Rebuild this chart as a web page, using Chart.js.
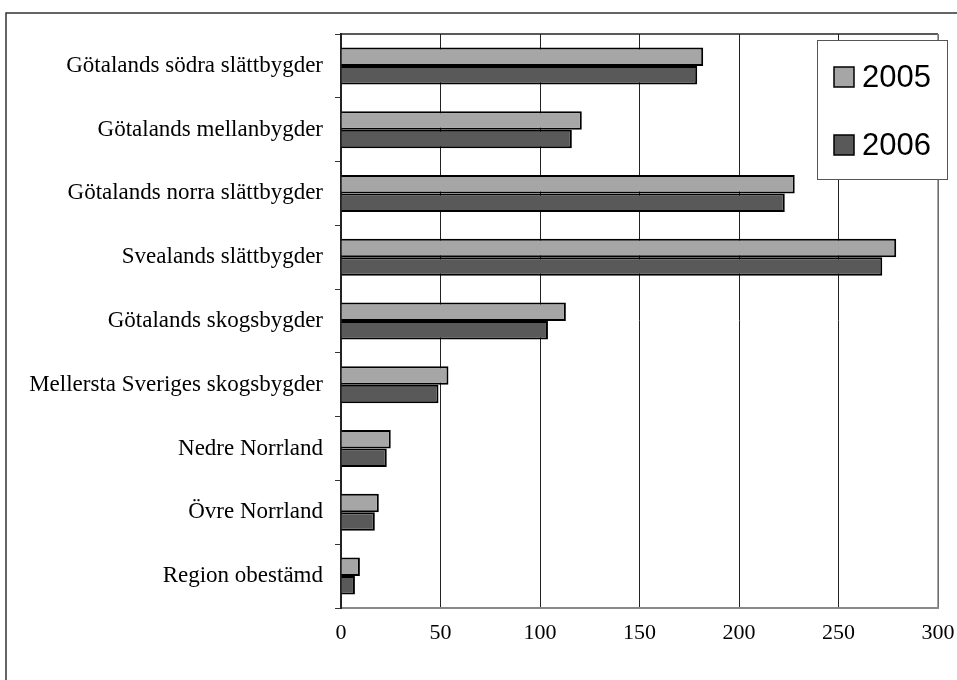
<!DOCTYPE html>
<html>
<head>
<meta charset="utf-8">
<script src="https://cdn.jsdelivr.net/npm/chart.js@4"></script>
<style>
  html, body { margin: 0; padding: 0; background: #fff; }
  #wrap { width: 957px; height: 680px; }
</style>
</head>
<body>
<div id="wrap"><canvas id="chart" width="957" height="680"></canvas></div>
<script>
// data
const regions = ['Götalands södra slättbygder', 'Götalands mellanbygder', 'Götalands norra slättbygder',
  'Svealands slättbygder', 'Götalands skogsbygder', 'Mellersta Sveriges skogsbygder',
  'Nedre Norrland', 'Övre Norrland', 'Region obestämd'];
const years = ['2005', '2006'];
const values2005 = [182, 121, 228, 279, 113, 54, 25, 19, 9.5];
const values2006 = [179, 116, 223, 272, 104, 49, 23, 17, 7];
const xTicks = [0, 50, 100, 150, 200, 250, 300];

const colors = ['#a6a6a6', '#595959'];

// outer frame + plot frame top/right + the legend box
const framePlugin = {
  id: 'frame',
  beforeDraw(chart) {
    const c = chart.ctx;
    c.save();
    c.strokeStyle = '#333';
    c.lineWidth = 1.5;
    c.beginPath();
    c.moveTo(6, 700);
    c.lineTo(6, 13);
    c.lineTo(960, 13);
    c.stroke();
    c.restore();
  },
  afterDraw(chart) {
    const c = chart.ctx;
    const a = chart.chartArea;
    c.save();
    c.lineWidth = 1.5;
    c.strokeStyle = '#222';
    c.beginPath();
    c.moveTo(a.left, a.top);
    c.lineTo(a.right, a.top);
    c.stroke();
    c.strokeStyle = '#888';
    c.beginPath();
    c.moveTo(a.right, a.top);
    c.lineTo(a.right, a.bottom);
    c.stroke();

    // legend
    c.fillStyle = '#fff';
    c.fillRect(817, 40, 130, 139);
    c.strokeStyle = '#555';
    c.lineWidth = 1;
    c.strokeRect(817.5, 40.5, 130, 139);
    const rowY = [77, 145];
    c.font = '31px "Liberation Sans", Arial, sans-serif';
    c.textBaseline = 'middle';
    years.forEach((y, i) => {
      c.fillStyle = colors[i];
      c.fillRect(834, rowY[i] - 10, 20, 20);
      c.strokeStyle = '#000';
      c.lineWidth = 1.5;
      c.strokeRect(834, rowY[i] - 10, 20, 20);
      c.fillStyle = '#000';
      c.fillText(y, 862, rowY[i] + 1);
    });
    c.restore();
  }
};

const ctx = document.getElementById('chart').getContext('2d');
new Chart(ctx, {
  type: 'bar',
  data: {
    labels: regions,
    datasets: [
      { label: years[0], data: values2005, backgroundColor: colors[0], borderColor: '#000', borderWidth: 2, borderSkipped: 'left' },
      { label: years[1], data: values2006, backgroundColor: colors[1], borderColor: '#000', borderWidth: 2, borderSkipped: 'left' }
    ]
  },
  options: {
    indexAxis: 'y',
    responsive: false,
    animation: false,
    layout: { padding: { top: 34, right: 19, left: 0, bottom: 0 } },
    datasets: { bar: { categoryPercentage: 0.58, barPercentage: 1 } },
    plugins: { legend: { display: false }, tooltip: { enabled: false } },
    scales: {
      x: {
        min: 0, max: 300,
        afterBuildTicks(scale) { scale.ticks = xTicks.map(v => ({ value: v })); },
        afterFit(scale) { scale.height = 72; scale.paddingLeft = 0; scale.paddingRight = 0; },
        grid: { color: '#222', lineWidth: 1, drawTicks: false },
        border: { color: '#888', width: 2 },
        ticks: { color: '#000', padding: 12, font: { family: '"Liberation Serif", serif', size: 22 } }
      },
      y: {
        afterFit(scale) { scale.width = 341; },
        grid: { drawOnChartArea: false, color: '#333', tickLength: 6, offset: true },
        border: { color: '#222', width: 2 },
        ticks: { color: '#000', padding: 12, font: { family: '"Liberation Serif", serif', size: 23 } }
      }
    }
  },
  plugins: [framePlugin]
});
</script>
</body>
</html>
